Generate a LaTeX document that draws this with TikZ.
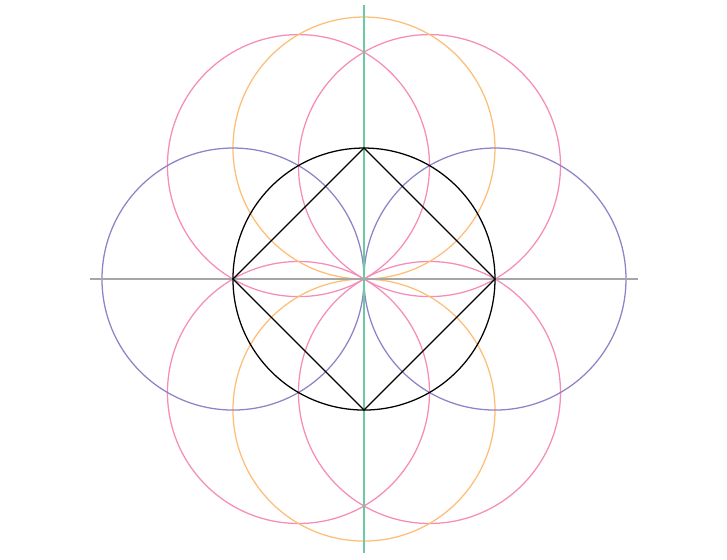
\documentclass[tikz,border=0pt]{standalone}
\usepackage{tikz}
\definecolor{lilac}{HTML}{8C84C6}
\definecolor{rose}{HTML}{F58DB8}
\definecolor{peach}{HTML}{FDBE78}
\definecolor{mint}{HTML}{6CC9A0}
\definecolor{ash}{HTML}{A6A6A6}
\begin{document}
\begin{tikzpicture}[line width=0.55pt]
\useasboundingbox (-5.557,-4.275) rectangle (5.542,4.260);
\coordinate (O) at (0,0);
\coordinate (E) at (2,0);
\coordinate (N) at (0,2);
\coordinate (W) at (-2,0);
\coordinate (S) at (0,-2);
\draw[rose] (60:2) circle(2);
\draw[rose] (120:2) circle(2);
\draw[rose] (240:2) circle(2);
\draw[rose] (300:2) circle(2);
\draw[peach] (N) circle(2);
\draw[peach] (S) circle(2);
\draw[lilac] (E) circle(2);
\draw[lilac] (W) circle(2);
\draw[ash] (-4.19,0) -- (4.19,0);
\draw[mint] (0,-4.19) -- (0,4.19);
\draw (O) circle(2);
\draw (N) -- (E) -- (S) -- (W) -- cycle;
\end{tikzpicture}
\end{document}
